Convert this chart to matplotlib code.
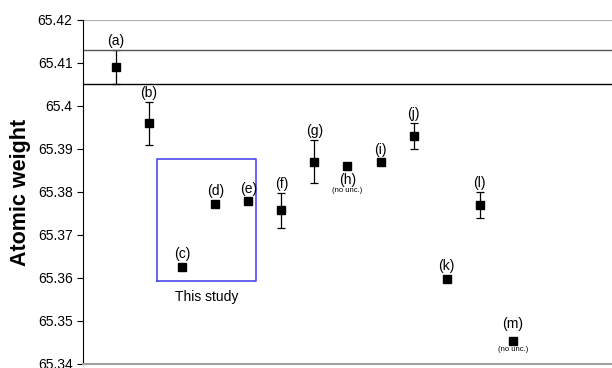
import matplotlib.pyplot as plt
import numpy as np

plt.rcParams['font.family'] = ['Liberation Sans', 'DejaVu Sans']

# data
labels = ['(a)', '(b)', '(c)', '(d)', '(e)', '(f)', '(g)', '(h)', '(i)', '(j)', '(k)', '(l)', '(m)']
weights = [65.409, 65.396, 65.3626, 65.3772, 65.3778, 65.3757, 65.387, 65.386,
           65.3869, 65.3931, 65.3598, 65.377, 65.3454]
uncert = [0.004, 0.005, 0, 0, 0, 0.004, 0.005, 0, 0, 0.003, 0, 0.003, 0]
band = [65.4051, 65.413]
study_box = [2.24, 5.24, 65.3592, 65.3876]

x = np.arange(1, len(labels) + 1)

fig = plt.figure(figsize=(6.12, 3.68), dpi=100)
ax = fig.add_axes([0.1356, 0.0109, 0.8644, 0.9348])

ax.errorbar(x, weights, yerr=uncert, fmt='s', color='black', ms=5.5,
            ecolor='black', elinewidth=0.9, capsize=3, capthick=0.9)

# reference band lines
ax.axhline(band[0], color='black', lw=1)
ax.axhline(band[1], color='#555555', lw=1)
ax.axhline(65.42, color='#b0b0b0', lw=1.5)

# point labels, above (or below for the "no unc." ones)
for xi, yi, lab, u in zip(x, weights, labels, uncert):
    if lab == '(h)':
        ax.annotate(lab, (xi, yi), xytext=(0, -5), textcoords='offset points',
                    ha='center', va='top', fontsize=10)
        ax.annotate('(no unc.)', (xi, yi), xytext=(0, -15), textcoords='offset points',
                    ha='center', va='top', fontsize=5.5)
    elif lab == '(m)':
        ax.annotate(lab, (xi, yi), xytext=(0, 7), textcoords='offset points',
                    ha='center', va='bottom', fontsize=10)
        ax.annotate('(no unc.)', (xi, yi), xytext=(0, -4), textcoords='offset points',
                    ha='center', va='top', fontsize=5.5)
    else:
        off = 1.5 if u > 0 else 4
        ax.annotate(lab, (xi, yi + u), xytext=(0, off), textcoords='offset points',
                    ha='center', va='bottom', fontsize=10)

x0, x1, y0, y1 = study_box
ax.plot([x0, x1, x1, x0, x0], [y0, y0, y1, y1, y0], color='#4a4af0', lw=1.2)
ax.text((x0 + x1) / 2, y0 - 0.0021, 'This study', ha='center', va='top', fontsize=10)

ax.set_xlim(0, 16)
ax.set_ylim(65.34, 65.42)
ax.set_yticks(np.arange(65.34, 65.4201, 0.01))
ax.set_yticklabels(['65.34', '65.35', '65.36', '65.37', '65.38', '65.39', '65.4', '65.41', '65.42'])
ax.set_xticks([])
ax.tick_params(axis='y', direction='out', length=4, labelsize=10)
ax.spines['right'].set_visible(False)
ax.spines['top'].set_visible(False)
ax.spines['bottom'].set_color('#a0a0a0')
ax.spines['bottom'].set_linewidth(1.5)
ax.set_ylabel('Atomic weight', fontsize=15.5, fontweight='bold', labelpad=5)

fig.savefig('out.png', dpi=100)
